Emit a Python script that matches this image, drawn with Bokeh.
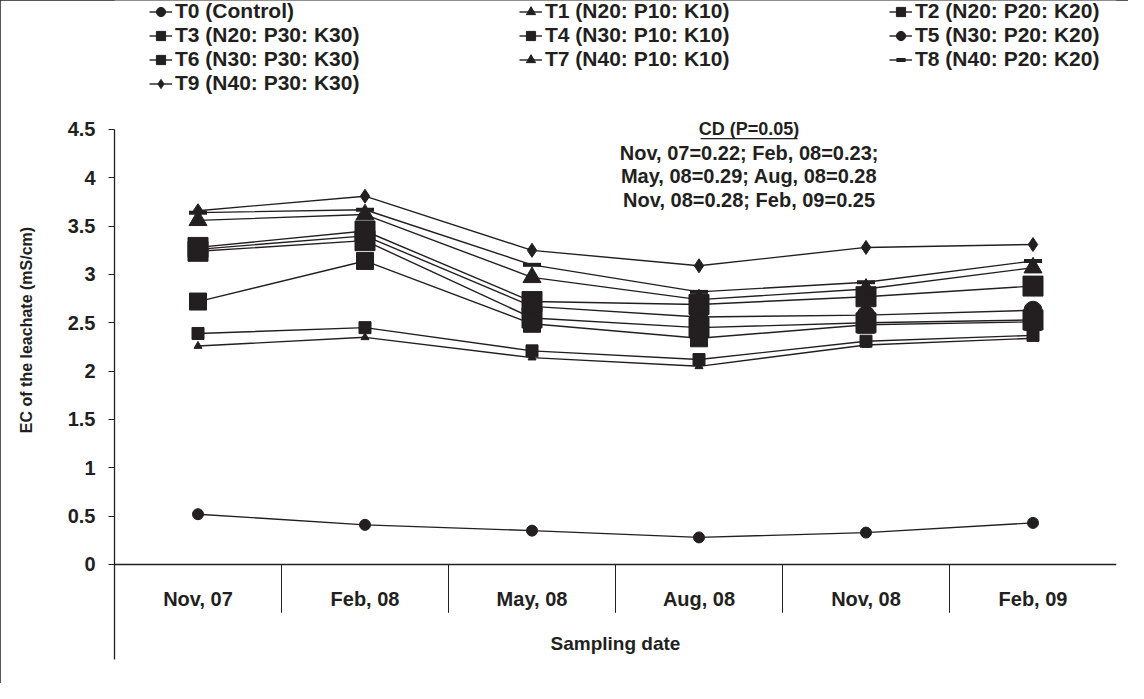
from bokeh.plotting import figure
from bokeh.models import Legend, LegendItem, FixedTicker, Span, Label, Range1d
from bokeh.embed import file_html
from bokeh.resources import INLINE
from bokeh.core.properties import value

# ---------------- data ----------------
dates = ["Nov, 07", "Feb, 08", "May, 08", "Aug, 08", "Nov, 08", "Feb, 09"]

t0 = [0.52, 0.41, 0.35, 0.28, 0.33, 0.43]
t1 = [2.26, 2.35, 2.14, 2.05, 2.27, 2.34]
t2 = [2.39, 2.45, 2.21, 2.12, 2.31, 2.37]
t3 = [2.72, 3.14, 2.49, 2.34, 2.48, 2.51]
t4 = [3.24, 3.35, 2.55, 2.45, 2.50, 2.53]
t5 = [3.26, 3.40, 2.67, 2.56, 2.58, 2.63]
t6 = [3.28, 3.45, 2.72, 2.69, 2.77, 2.88]
t7 = [3.56, 3.62, 2.97, 2.74, 2.85, 3.07]
t8 = [3.64, 3.67, 3.10, 2.82, 2.92, 3.14]
t9 = [3.66, 3.81, 3.25, 3.09, 3.28, 3.31]

series_labels = ["T0 (Control)", "T1 (N20: P10: K10)", "T2 (N20: P20: K20)",
                 "T3 (N20: P30: K30)", "T4 (N30: P10: K10)", "T5 (N30: P20: K20)",
                 "T6 (N30: P30: K30)", "T7 (N40: P10: K10)", "T8 (N40: P20: K20)",
                 "T9 (N40: P30: K30)"]

y_ticks = [0, 0.5, 1, 1.5, 2, 2.5, 3, 3.5, 4, 4.5]
y_tick_labels = ["0", "0.5", "1", "1.5", "2", "2.5", "3", "3.5", "4", "4.5"]

cd_title = "CD (P=0.05)"
cd_lines = ["Nov, 07=0.22; Feb, 08=0.23;",
            "May, 08=0.29; Aug, 08=0.28",
            "Nov, 08=0.28; Feb, 09=0.25"]

x_title = "Sampling date"
y_title = "EC of the leachate (mS/cm)"

# ---------------- styles ----------------
INK = "#231f20"
FONT = "Liberation Sans"
markers = ["circle", "triangle", "square", "square", "square", "circle",
           "square", "triangle", "dash", "diamond"]
sizes = [11, 8, 12, 17, 20, 18, 20, 18, 18, 14]

values = [t0, t1, t2, t3, t4, t5, t6, t7, t8, t9]
x = list(range(1, len(dates) + 1))

Y_MIN, Y_AXIS_TOP, Y_MAX = -0.983, 4.5, 5.8345

p = figure(width=1128, height=683, output_backend="svg", toolbar_location=None,
           title=None, x_axis_location=None,
           x_range=Range1d(0.5, len(dates) + 0.5), y_range=Range1d(Y_MIN, Y_MAX),
           min_border_left=114, min_border_right=12, min_border_top=0,
           min_border_bottom=24)
p.styles = {"outline": "1px solid #231f20", "outline-offset": "-1px"}
p.outline_line_color = None
p.xgrid.visible = False
p.ygrid.visible = False
p.background_fill_color = "white"
p.border_fill_color = "white"

ax = p.yaxis[0]
ax.bounds = (Y_MIN, Y_AXIS_TOP)
ax.ticker = FixedTicker(ticks=y_ticks, minor_ticks=[])
ax.major_label_overrides = {t: s for t, s in zip(y_ticks, y_tick_labels)}
ax.axis_line_color = INK
ax.axis_line_width = 1.3
ax.major_tick_line_color = INK
ax.major_tick_in = 0
ax.major_tick_out = 6
ax.minor_tick_line_color = None
ax.major_label_text_font = FONT
ax.major_label_text_font_style = "bold"
ax.major_label_text_font_size = "20px"
ax.major_label_text_color = INK
ax.major_label_standoff = 13
ax.axis_label = y_title
ax.axis_label_text_font = FONT
ax.axis_label_text_font_style = "bold"
ax.axis_label_text_font_size = "16px"
ax.axis_label_text_color = INK
ax.axis_label_standoff = 30

# x axis line and category separators
p.add_layout(Span(location=0, dimension="width", line_color=INK, line_width=1.3))
sep_x = [xi + 0.5 for xi in x[:-1]]
p.segment(x0=sep_x, y0=[0] * len(sep_x), x1=sep_x, y1=[-0.5] * len(sep_x),
          line_color=INK, line_width=1)
p.text(x=x, y=[-0.362] * len(x), text=dates, text_align="center",
       text_baseline="middle", text_font=value(FONT), text_font_style="bold",
       text_font_size="20px", text_color=INK)
p.text(x=[(x[0] + x[-1]) / 2], y=[-0.817], text=[x_title], text_align="center",
       text_baseline="middle", text_font=value(FONT), text_font_style="bold",
       text_font_size="19px", text_color=INK)

# series
items = []
for lab, vals, mk, sz in zip(series_labels, values, markers, sizes):
    lr = p.line(x, vals, line_color=INK, line_width=1.4)
    if mk == "dash":
        sr = p.scatter(x, vals, marker=mk, size=sz, line_color=INK, line_width=4)
    else:
        sr = p.scatter(x, vals, marker=mk, size=sz, fill_color=INK, line_color=INK)
    items.append(LegendItem(label=lab, renderers=[lr, sr]))

legend = Legend(items=items, ncols=3, orientation="horizontal",
                location=(35, 564), padding=0, spacing=0, margin=0,
                glyph_width=23, glyph_height=23, label_height=23, label_width=344,
                label_standoff=3, label_text_font=FONT,
                label_text_font_style="bold", label_text_font_size="21px",
                label_text_line_height=1.0,
                label_text_color=INK, border_line_color=None,
                background_fill_alpha=0)
p.add_layout(legend, "center")

# CD note
cd_x = 4.30
p.add_layout(Label(x=cd_x, y=4.51, text=cd_title, text_align="center",
                   text_baseline="middle", text_font=FONT, text_font_style="bold",
                   text_font_size="18px", text_color=INK))
p.segment(x0=[4.01], y0=[4.405], x1=[4.59], y1=[4.405], line_color=INK, line_width=1.3)
for i, line in enumerate(cd_lines):
    p.add_layout(Label(x=cd_x, y=4.26 - 0.245 * i, text=line, text_align="center",
                       text_baseline="middle", text_font=FONT,
                       text_font_style="bold", text_font_size="20px",
                       text_color=INK))

open("out.html", "w").write(file_html(p, INLINE))
